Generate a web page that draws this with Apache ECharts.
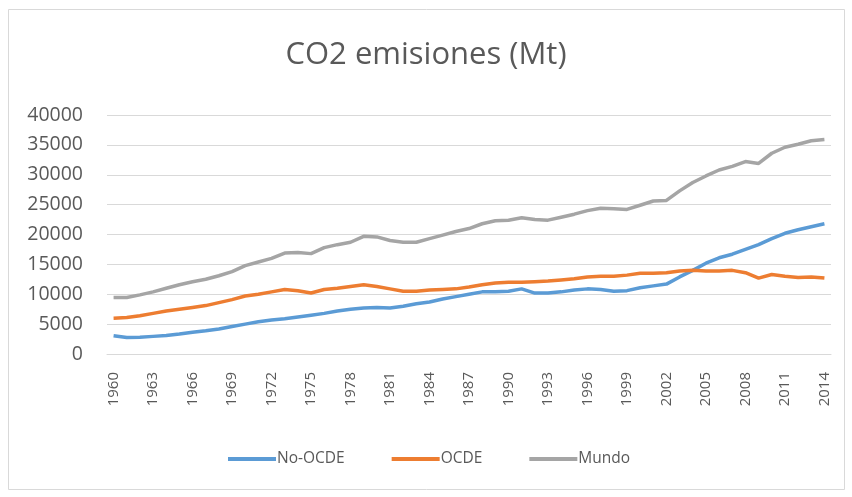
<!DOCTYPE html>
<html>
<head>
<meta charset="utf-8">
<script src="https://cdn.jsdelivr.net/npm/echarts@6/dist/echarts.min.js"></script>
<style>
html,body{margin:0;padding:0;background:#fff;}
#main{width:852px;height:497px;}
</style>
</head>
<body>
<div id="main"></div>
<script>
var years = [];
for (var y = 1960; y <= 2014; y++) years.push(String(y));

var noOCDE = [3050,2750,2800,2950,3100,3350,3650,3900,4200,4600,
  5000,5400,5700,5900,6200,6500,6800,7200,7500,7700,
  7800,7700,8000,8400,8700,9200,9600,10000,10400,10400,
  10500,10900,10200,10200,10400,10700,10900,10800,10500,10600,
  11100,11400,11700,12900,14000,15200,16100,16700,17500,18300,
  19300,20200,20800,21300,21800];

var ocde = [6000,6100,6400,6800,7200,7500,7800,8100,8600,9100,
  9700,10000,10400,10800,10600,10200,10800,11000,11300,11600,
  11300,10900,10500,10500,10700,10800,10900,11200,11600,11900,
  12000,12000,12100,12200,12400,12600,12900,13000,13000,13200,
  13500,13500,13600,13900,14000,13900,13900,14000,13600,12700,
  13300,13000,12800,12900,12700];

var mundo = [9450,9450,9900,10400,11000,11600,12100,12500,13100,13800,
  14800,15400,16000,16900,17000,16800,17800,18300,18700,19700,
  19600,19000,18700,18700,19300,19900,20500,21000,21800,22300,
  22400,22800,22500,22400,22900,23400,24000,24400,24300,24200,
  24900,25600,25700,27300,28700,29800,30800,31400,32200,31900,
  33600,34600,35100,35700,35900];

var chart = echarts.init(document.getElementById('main'), null, {renderer: 'canvas'});
var font = '"Open Sans", "Liberation Sans", sans-serif';
chart.setOption({
  animation: false,
  backgroundColor: '#ffffff',
  graphic: [{
    type: 'rect',
    shape: {x: 8.5, y: 9.5, width: 836, height: 480},
    style: {fill: 'none', stroke: '#d9d9d9', lineWidth: 1},
    silent: true
  }],
  title: {
    text: 'CO2 emisiones (Mt)',
    left: 'center',
    top: 35,
    textStyle: {fontFamily: font, fontSize: 31, fontWeight: 'normal', color: '#595959'}
  },
  grid: {left: 107, right: 21, top: 115, bottom: 143, containLabel: false},
  legend: {
    bottom: 25,
    left: 223,
    itemWidth: 48,
    itemHeight: 4,
    itemGap: 47,
    icon: 'rect',
    textStyle: {fontFamily: font, fontSize: 15.5, color: '#595959', padding: [0,0,0,-4]},
    data: ['No-OCDE', 'OCDE', 'Mundo']
  },
  xAxis: {
    type: 'category',
    data: years,
    boundaryGap: true,
    axisLine: {show: true, lineStyle: {color: '#d9d9d9', width: 1}},
    axisTick: {show: false},
    axisLabel: {interval: 2, rotate: 90, color: '#595959', fontFamily: font, fontSize: 15, margin: 18}
  },
  yAxis: {
    type: 'value',
    min: 0, max: 40000, interval: 5000,
    axisLine: {show: false},
    axisTick: {show: false},
    splitLine: {lineStyle: {color: '#d9d9d9', width: 1}},
    axisLabel: {color: '#595959', fontFamily: font, fontSize: 19.5, margin: 24,
      formatter: function (v) { return String(v); }}
  },
  series: [
    {name: 'No-OCDE', type: 'line', data: noOCDE, showSymbol: false, symbol: 'none',
     lineStyle: {color: '#5B9BD5', width: 3.5}, itemStyle: {color: '#5B9BD5'}},
    {name: 'OCDE', type: 'line', data: ocde, showSymbol: false, symbol: 'none',
     lineStyle: {color: '#ED7D31', width: 3.5}, itemStyle: {color: '#ED7D31'}},
    {name: 'Mundo', type: 'line', data: mundo, showSymbol: false, symbol: 'none',
     lineStyle: {color: '#A5A5A5', width: 3.5}, itemStyle: {color: '#A5A5A5'}}
  ]
});
</script>
</body>
</html>
